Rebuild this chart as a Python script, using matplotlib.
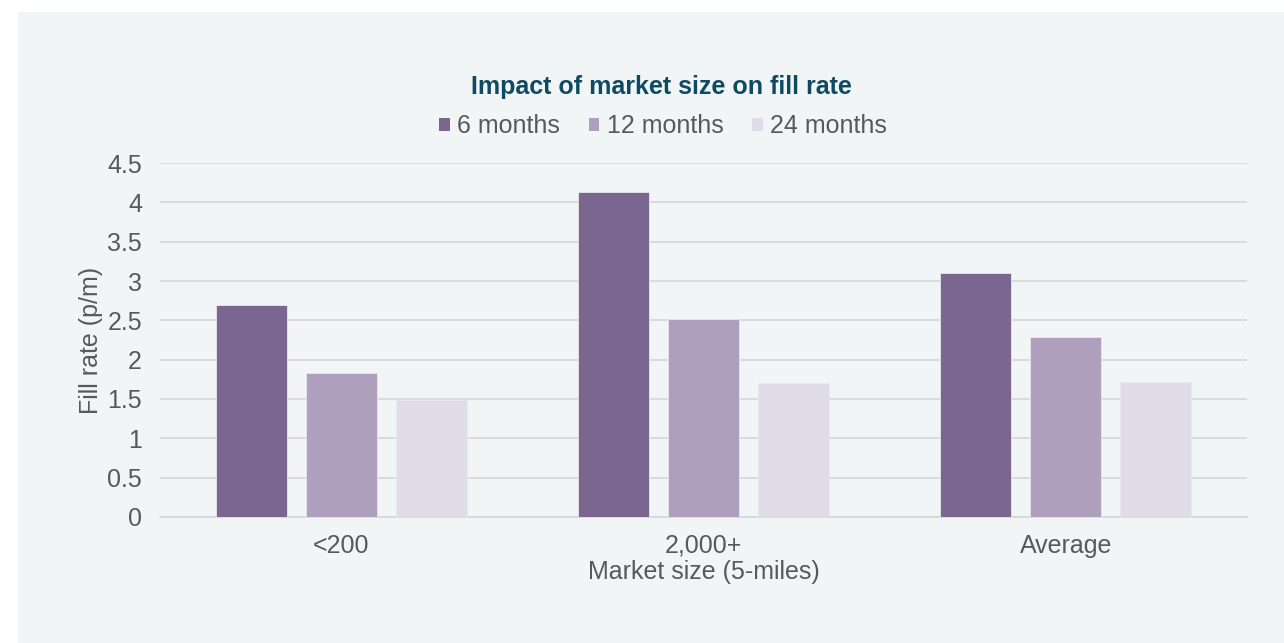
import numpy as np
import matplotlib.pyplot as plt
from matplotlib.patches import Patch, Rectangle

plt.rcParams['font.family'] = ['Liberation Sans', 'DejaVu Sans']

# fill rate per market size, by time since launch
categories = ['<200', '2,000+', 'Average']
series_names = ['6 months', '12 months', '24 months']
six_months = [2.7, 4.13, 3.1]
twelve_months = [1.83, 2.52, 2.29]
twenty_four_months = [1.49, 1.70, 1.72]
yticks = [0, 0.5, 1, 1.5, 2, 2.5, 3, 3.5, 4, 4.5]

colors = ['#7a668e', '#ae9fbc', '#e0dde8']
text_col = '#595959'
grid_col = '#d9d9d9'
fs = 18

fig = plt.figure(figsize=(12.84, 6.43), dpi=100)
fig.patch.set_facecolor('white')
# light panel behind the chart
fig.patches.append(Rectangle((18 / 1284, 0), 1 - 18 / 1284, 1 - 12 / 643,
                             transform=fig.transFigure, facecolor='#f1f5f6',
                             edgecolor='none', zorder=-10))

ax = fig.add_axes([160 / 1284, 1 - 517 / 643, 1087 / 1284, (517 - 163) / 643])
ax.set_facecolor('none')

x = np.arange(len(categories))
width = 0.196
step = 0.248
for i, vals in enumerate([six_months, twelve_months, twenty_four_months]):
    ax.bar(x + (i - 1) * step, vals, width, color=colors[i], zorder=3,
           edgecolor='#e8e8ee', linewidth=0.6)

ax.set_xlim(-0.5, len(categories) - 0.5)
ax.set_ylim(0, 4.5)
ax.set_yticks(yticks)
ax.set_yticklabels([f'{v:g}' for v in yticks])
ax.yaxis.grid(True, color=grid_col, linewidth=1.3, zorder=0)
ax.set_axisbelow(True)
ax.set_xticks(x)
ax.set_xticklabels(categories)
ax.tick_params(axis='both', length=0, labelsize=fs, colors=text_col)
ax.tick_params(axis='x', pad=12)
ax.tick_params(axis='y', pad=13)
for s in ['top', 'right', 'left']:
    ax.spines[s].set_visible(False)
ax.spines['bottom'].set_color(grid_col)
ax.spines['bottom'].set_linewidth(1.3)

ax.set_xlabel('Market size (5-miles)', fontsize=fs, color=text_col, labelpad=2)
ax.set_ylabel('Fill rate (p/m)', fontsize=fs, color=text_col, labelpad=3)

fig.text(661 / 1284, 1 - 87 / 643, 'Impact of market size on fill rate',
         ha='center', va='center', fontsize=18, fontweight='bold', color='#0e4b63')

handles = [Patch(facecolor=c, edgecolor='none') for c in colors]
fig.legend(handles, series_names, loc='center', ncol=3, frameon=False,
           bbox_to_anchor=(663 / 1284, 1 - 126 / 643), fontsize=fs,
           labelcolor=text_col, handlelength=0.42, handleheight=0.42,
           handletextpad=0.3, columnspacing=1.15)

fig.savefig('out.png', dpi=100)
